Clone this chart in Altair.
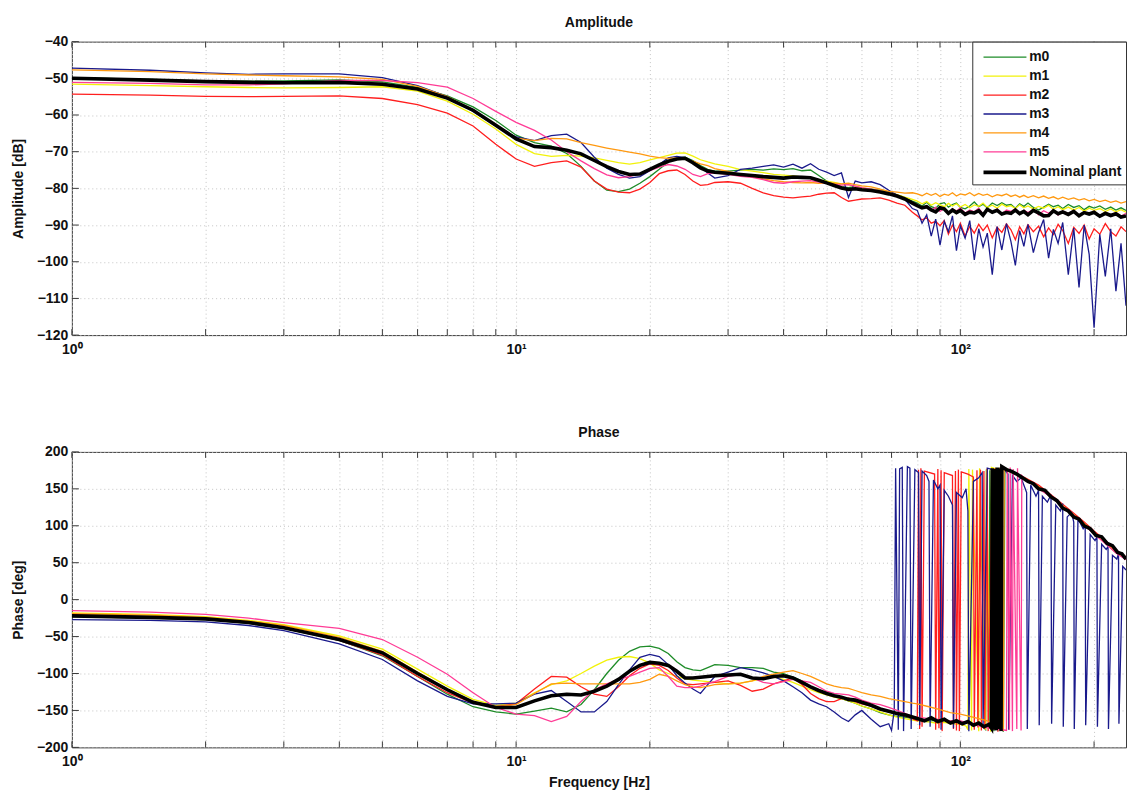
import altair as alt
import pandas as pd

FONT = "Liberation Sans, Arial, Helvetica, sans-serif"

SERIES = ["m0", "m1", "m2", "m3", "m4", "m5", "Nominal plant"]
COLORS = ["#1e8c28", "#f2f20a", "#ff1e1e", "#1a1a8c", "#ff9910", "#ff3c96", "#000000"]
WIDTHS = [1.3, 1.3, 1.3, 1.3, 1.3, 1.3, 3.6]

XTICKS = [1, 2, 3, 4, 5, 6, 7, 8, 9, 10, 20, 30, 40, 50, 60, 70, 80, 90, 100, 200]
AMP_TICKS = [-120, -110, -100, -90, -80, -70, -60, -50, -40]
PH_TICKS = [-200, -150, -100, -50, 0, 50, 100, 150, 200]

# frequency grids (Hz)
FREQ_LF = [1, 1.5, 2, 2.5, 3, 4, 5, 6, 7, 8, 9, 10, 11, 12, 13, 14, 15, 16, 17, 18,
           19, 20, 21, 22, 23, 24, 25, 26, 27, 28]
FREQ_MF = [30, 32, 34, 36, 38, 40, 42, 44, 46, 48, 50, 52, 54, 56, 58, 60, 63, 66, 69, 72, 75, 78]
FREQ_HF = [80, 82, 84, 86, 88, 90, 92, 94, 96, 98, 100, 102.5, 105, 107.5, 110, 112.5, 115,
           118, 121, 124, 127, 130, 133, 136, 139, 142, 146, 150, 154, 158, 162, 166, 170,
           175, 180, 185, 190, 195, 200, 206, 212, 218, 224, 230, 236]

# ---------------- amplitude [dB] on FREQ_LF + FREQ_MF + FREQ_HF ----------------
AMP_M0 = [-49.8, -50.3, -50.7, -50.8, -50.7, -50.4, -51.0, -52.5, -54.8, -57.8, -61.5, -65.5,
          -67.5, -68.5, -70.5, -74.0, -78.0, -80.5, -80.9, -80.2, -78.6, -76.8, -74.8, -72.8,
          -71.8, -71.5, -72.4, -73.8, -74.8, -75.3,
          -75.3, -75.0, -74.8, -75.0, -74.7, -74.9, -74.6, -75.2, -75.0, -76.5, -78.0, -78.8,
          -79.5, -79.8, -79.5, -80.0, -80.2, -80.5, -81.0, -81.8, -82.5, -83.5,
          -84.0, -84.8, -83.8, -85.0, -85.4, -84.2, -83.9, -85.1, -84.4, -84.0, -85.2, -85.6,
          -84.8, -83.7, -85.0, -84.3, -85.3, -84.0, -84.7, -83.9, -84.6, -84.4, -85.4, -84.2,
          -84.9, -84.0, -85.2, -85.9, -85.1, -84.3, -85.0, -84.6, -85.5, -84.4, -85.2, -84.7,
          -85.8, -84.9, -85.4, -84.8, -85.7, -85.1, -85.9, -85.3, -86.0]
AMP_M1 = [-51.6, -52.0, -52.3, -52.5, -52.6, -52.5, -52.3, -53.5, -56.2, -59.8, -63.8, -68.0,
          -70.5, -71.3, -71.0, -71.2, -71.7, -72.4, -73.0, -73.4, -73.0, -72.2, -71.6, -71.0,
          -70.4, -70.3, -71.2, -72.2, -72.8, -73.3,
          -74.0, -74.9, -75.3, -75.7, -76.2, -76.4, -76.6, -76.9, -77.1, -77.6, -78.0, -78.4,
          -78.8, -79.0, -79.5, -79.9, -80.2, -80.6, -81.0, -81.7, -82.4, -83.0,
          -83.5, -84.2, -83.6, -84.6, -83.9, -84.5, -85.0, -84.1, -84.8, -84.2, -85.1, -84.4,
          -85.3, -84.5, -84.9, -84.0, -85.2, -84.6, -85.4, -84.3, -85.0, -84.7, -85.5, -84.5,
          -85.3, -84.8, -85.6, -84.9, -85.4, -84.6, -85.7, -85.0, -85.8, -85.1, -85.9, -85.2,
          -86.2, -85.4, -86.0, -85.5, -86.3, -85.6, -86.4, -85.8, -86.5]
AMP_M2 = [-54.3, -54.6, -54.9, -55.0, -54.9, -54.8, -55.5, -57.2, -59.5, -63.0, -68.0, -72.0,
          -74.0, -73.0, -72.5, -74.2, -78.0, -80.2, -81.0, -81.2, -80.2, -78.4, -76.0, -75.2,
          -75.0, -76.2, -78.0, -79.2, -79.0, -78.4,
          -78.2, -78.6, -80.0, -81.2, -82.0, -82.4, -82.6, -82.3, -82.1, -81.6, -81.3, -81.2,
          -82.5, -83.5, -83.2, -82.9, -82.8, -82.6, -83.2, -84.0, -84.6, -86.5,
          -87.5, -88.6, -88.0, -89.5, -89.0, -90.2, -88.8, -92.5, -90.0, -91.8, -89.5, -93.0,
          -90.4, -92.2, -89.8, -91.5, -90.0, -93.5, -90.6, -92.0, -89.7, -91.3, -94.0, -90.5,
          -92.4, -89.9, -91.8, -90.3, -93.2, -90.8, -92.6, -89.8, -91.5, -95.0, -90.6, -92.3,
          -90.0, -93.8, -91.0, -92.5, -89.6, -91.8, -93.0, -90.5, -91.8]
AMP_M3 = [-47.2, -47.8, -48.5, -48.9, -48.8, -48.8, -49.8, -52.0, -55.0, -59.0, -63.0, -66.0,
          -67.0, -65.6, -65.2, -67.5, -71.5, -74.5, -76.2, -77.2, -76.8, -75.2, -73.5, -71.7,
          -71.3, -71.6, -72.8, -74.2, -75.8, -77.2,
          -76.5, -74.8, -74.5, -74.0, -73.6, -74.2, -73.4, -74.5, -73.3, -74.8, -75.6, -76.5,
          -75.8, -82.5, -78.0, -78.5, -78.2, -79.0, -80.5, -81.8, -83.0, -85.5,
          -86.0, -89.5, -87.2, -93.0, -88.4, -95.5, -89.0, -91.8, -87.5, -97.0, -90.2, -93.6,
          -88.8, -99.5, -91.0, -96.0, -92.2, -103.5, -90.4, -96.8, -89.6, -94.5, -101.0, -91.5,
          -95.8, -89.8, -97.5, -92.0, -88.5, -99.0, -91.2, -95.0, -89.3, -103.5, -90.8, -107.0,
          -90.0, -98.0, -118.0, -92.5, -104.0, -91.0, -108.0, -95.0, -112.0]
AMP_M4 = [-47.7, -48.2, -48.8, -49.1, -49.3, -49.6, -50.3, -52.2, -55.0, -58.6, -62.5, -66.3,
          -67.0, -66.4, -66.5, -67.5, -68.3, -69.0, -69.6, -70.1, -70.6, -71.2, -71.6, -71.8,
          -71.7, -72.1, -72.6, -73.3, -73.8, -74.6,
          -75.4, -76.2, -76.8, -77.4, -77.9, -78.2, -78.4, -78.5, -78.4, -78.6, -78.5, -78.6,
          -78.8, -78.6, -79.0, -79.3, -79.6, -80.2, -80.8, -81.0, -81.3, -81.2,
          -81.5, -82.0, -81.3, -81.9, -81.4, -82.2, -81.6, -81.9, -81.2, -82.1, -81.5, -81.8,
          -81.2, -82.0, -81.4, -81.9, -81.6, -82.3, -81.7, -82.0, -81.5, -82.2, -81.8, -82.4,
          -81.9, -82.5, -82.0, -82.6, -82.1, -82.7, -82.3, -82.9, -82.4, -83.0, -82.6, -83.2,
          -82.8, -83.4, -83.0, -83.6, -83.2, -83.8, -83.4, -84.0, -83.6]
AMP_M5 = [-51.1, -51.4, -51.8, -51.8, -51.5, -50.6, -50.6, -51.2, -52.4, -55.5, -59.0, -62.0,
          -64.2, -66.8, -70.0, -72.5, -74.6, -76.3, -77.1, -76.8, -76.0, -75.2, -74.2, -73.5,
          -73.9, -74.8, -76.2, -76.8, -76.0, -75.8,
          -76.2, -76.7, -77.0, -77.6, -78.4, -78.6, -78.2, -78.0, -77.9, -78.3, -78.6, -78.9,
          -79.1, -79.0, -79.4, -79.8, -80.2, -80.7, -81.2, -82.0, -82.8, -83.8,
          -84.5, -85.4, -84.8, -86.0, -85.2, -86.3, -85.5, -86.8, -85.6, -86.2, -85.3, -86.7,
          -85.9, -86.4, -85.4, -87.0, -85.8, -86.5, -85.6, -86.9, -85.9, -86.3, -85.5, -87.1,
          -86.0, -86.6, -85.7, -87.2, -86.1, -86.8, -85.9, -87.3, -86.2, -86.9, -86.0, -87.4,
          -86.4, -87.0, -86.2, -87.5, -86.5, -87.2, -86.6, -87.6, -86.8]
AMP_NOM = [-50.0, -50.5, -50.9, -51.1, -51.2, -51.1, -51.6, -52.9, -55.4, -58.7, -62.8, -66.5,
           -68.6, -68.9, -69.6, -70.6, -72.4, -74.1, -75.4, -76.2, -76.1, -74.8, -73.6, -72.6,
           -72.0, -71.8, -73.0, -74.4, -75.3, -75.6,
           -75.9, -76.2, -76.5, -76.8, -77.0, -77.2, -76.9, -77.0, -77.1, -77.8, -78.5, -79.2,
           -79.9, -80.3, -80.1, -80.4, -80.6, -81.0, -81.5, -82.1, -82.9, -84.0,
           -84.7, -85.3, -85.0, -85.9, -86.4, -85.3, -85.6, -86.8, -85.9, -86.6, -86.0, -87.1,
           -86.5, -86.7, -86.1, -87.3, -85.7, -86.5, -86.0, -87.0, -86.6, -86.8, -85.9, -86.9,
           -86.3, -87.2, -86.0, -86.7, -87.5, -87.4, -86.1, -86.9, -86.4, -87.1, -86.3, -87.5,
           -86.6, -87.0, -86.5, -87.6, -86.8, -87.4, -86.9, -87.8, -87.5]

# ---------------- phase [deg] on FREQ_LF + FREQ_MF, then own high-frequency part ----------------
PH_M0 = [-23, -25, -27, -32, -39, -55, -76, -104, -128, -145, -152, -155, -151, -147, -152,
         -142, -122, -100, -82, -70, -64, -63, -66, -73, -84, -92, -95, -96, -92, -88,
         -89, -92, -92, -93, -98, -100, -105, -110, -118, -124, -128, -131, -134, -137, -140,
         -144, -148, -153, -156, -158, -159, -161]
PH_M0_HF_F = [80, 84, 88, 92, 96, 100, 104, 108, 112, 114, 114.5, 116, 116.5, 119, 119.5, 122,
              122.5, 125, 126, 130, 136, 142, 150, 160, 170, 180, 190, 200, 212, 224, 236]
PH_M0_HF_V = [-162, -165, -163, -166, -164, -167, -166, -169, -171, -176, 176, -174, 175, -178,
              178, -177, 179, -179, 178, 174, 168, 161, 153, 140, 126, 114, 102, 90, 77, 64, 55]

PH_M1 = [-18, -20, -23, -28, -34, -49, -67, -94, -117, -135, -143, -140, -126, -115, -110,
         -100, -90, -82, -78, -77, -80, -86, -95, -100, -104, -107, -109, -110, -111, -112,
         -114, -113, -110, -107, -105, -108, -112, -117, -122, -126, -129, -132, -134, -137,
         -140, -144, -148, -152, -156, -159, -161, -163]
PH_M1_HF_F = [80, 84, 88, 92, 96, 100, 103, 104, 104.5, 106, 106.5, 110, 110.5, 114, 114.5, 117,
              117.5, 119, 122, 126, 132, 140, 150, 160, 170, 180, 190, 200, 212, 224, 236]
PH_M1_HF_V = [-164, -165, -167, -166, -168, -169, -171, -176, 177, -177, 176, -178, 178, -176,
              177, -179, 179, 178, 177, 175, 171, 163, 152, 140, 126, 114, 102, 90, 77, 64, 55]

PH_M2 = [-20, -23, -26, -31, -38, -55, -75, -104, -126, -140, -145, -141, -121, -104, -105,
         -118, -128, -131, -118, -103, -93, -87, -89, -96, -106, -114, -115, -114, -113, -112,
         -110, -116, -124, -121, -114, -110, -106, -115, -127, -134, -138, -138, -134, -133,
         -138, -141, -144, -149, -152, -154, -157, -161]
PH_M2_HF_F = [80, 80.5, 81, 81.5, 82, 83, 87.5, 88, 89, 89.5, 90.5, 91, 92, 96, 96.5, 97.5, 98,
              99, 99.5, 100.5, 104, 107, 107.5, 109, 109.5, 111, 111.5, 113, 113.5, 115, 115.5,
              118, 121, 121.5, 123, 126, 132, 140, 150, 160, 170, 180, 190, 200, 212, 224, 236]
PH_M2_HF_V = [-164, 176, -175, 178, -172, 174, 170, -176, 177, -174, 175, -178, 172, 168, -175,
              174, -177, 176, -178, 173, 170, 166, -176, 175, -173, 176, -177, 174, -175, 178,
              -178, 176, 177, -179, 178, 176, 172, 165, 155, 142, 129, 117, 105, 93, 80, 67, 58]

PH_M3 = [-27, -28, -30, -35, -42, -60, -81, -110, -131, -141, -141, -140, -128, -123, -138,
         -152, -152, -138, -115, -95, -78, -74, -77, -88, -103, -113, -121, -127, -115, -104,
         -98, -92, -95, -99, -104, -110, -118, -126, -136, -141, -145, -152, -160, -165, -156,
         -150, -162, -172, -168, -176, -170, -176]
PH_M3_HF_F = [70, 71, 71.5, 72.5, 73, 74, 74.5, 76, 77, 77.5, 79, 80.5, 81, 82, 84, 85, 85.5, 87,
              89, 90, 90.5, 92, 94, 96, 96.5, 98, 101, 103, 104, 104.5, 107, 110, 112, 112.5, 115,
              118, 121, 125, 128, 128.5, 131, 134, 137, 140, 141, 141.5, 144, 148, 150, 150.5,
              153, 157, 160, 160.5, 164, 168, 170, 170.5, 174, 178, 180, 180.5, 184, 189, 191,
              191.5, 196, 201, 203, 203.5, 208, 213, 215, 215.5, 220, 225, 227, 227.5, 232, 236]
PH_M3_HF_V = [-177, -150, 178, -176, 177, 179, -178, 180, 178, -175, 176, 172, -170, 174, 168,
              160, -172, 162, 150, 155, -176, 148, 140, 128, -174, 145, 138, 150, 120, -178,
              160, 165, 172, -170, 178, 176, 174, 178, 170, -176, 168, 160, 165, 150, 145, -175,
              155, 140, 148, -170, 140, 132, 142, -168, 128, 120, 130, -172, 112, 118, 105, -175,
              110, 96, 100, -170, 88, 80, 85, -172, 75, 68, 72, -175, 60, 55, 62, -168, 45, 40]

PH_M4 = [-19, -21, -24, -29, -35, -51, -70, -98, -121, -138, -145, -142, -127, -114, -113,
         -114, -114, -114, -114, -114, -112, -108, -101, -104, -110, -115, -118, -119, -117, -115,
         -114, -113, -110, -104, -101, -98, -96, -100, -104, -109, -114, -117, -119, -120,
         -123, -126, -129, -131, -134, -136, -138, -140]
PH_M4_HF_F = [80, 85, 90, 95, 100, 105, 110, 115, 119, 119.5, 122, 122.5, 125, 125.5, 128, 134,
              140, 150, 160, 170, 180, 190, 200, 212, 224, 236]
PH_M4_HF_V = [-141, -145, -149, -153, -155, -158, -161, -164, -168, 178, -176, 177, -178, 179,
              176, 171, 164, 153, 140, 127, 115, 103, 91, 78, 65, 56]

PH_M5 = [-15, -17, -20, -25, -31, -39, -54, -78, -101, -126, -146, -155, -157, -165, -158,
         -138, -122, -114, -108, -104, -98, -93, -92, -104, -117, -119, -119, -117, -113, -111,
         -104, -101, -106, -112, -114, -111, -108, -110, -112, -118, -124, -127, -128, -129,
         -132, -136, -140, -142, -146, -150, -154, -158]
PH_M5_HF_F = [80, 85, 90, 95, 100, 105, 108, 112, 116, 120, 124, 127, 127.5, 129, 129.5, 131,
              131.5, 134, 134.5, 137, 137.5, 140, 145, 150, 160, 170, 180, 190, 200, 212, 224, 236]
PH_M5_HF_V = [-159, -161, -162, -164, -164, -167, -170, -172, -174, -175, -176, -177, 176, -176,
              179, -178, 177, -175, 178, -177, 168, 162, 157, 150, 139, 126, 114, 101, 89, 76,
              63, 54]

PH_NOM = [-22, -24, -26, -31, -38, -54, -72, -100, -122, -139, -146, -146, -137, -130, -128,
          -129, -124, -117, -108, -97, -89, -85, -86, -89, -97, -106, -106, -105, -104, -103,
          -102, -101, -106, -107, -104, -103, -106, -112, -118, -123, -127, -130, -132, -135,
          -136, -139, -143, -148, -151, -154, -156, -159]
PH_NOM_HF_F = [80, 83, 86, 89, 92, 95, 98, 101, 104, 107, 110, 113, 116, 117.5, 118, 119, 119.5,
               120.5, 121, 122, 122.5, 123.5, 124, 127, 130, 134, 138, 142, 146, 150, 155, 160,
               165, 170, 175, 180, 185, 190, 196, 202, 208, 214, 220, 226, 231, 236]
PH_NOM_HF_V = [-161, -164, -160, -165, -162, -167, -164, -168, -165, -170, -167, -172, -169,
               -174, 178, -176, 177, -177, 179, -175, 178, -178, 180, 176, 174, 170, 165, 160,
               157, 150, 148, 139, 134, 124, 120, 112, 109, 100, 96, 87, 85, 76, 73, 64, 62, 55]

AMP_ALL = [AMP_M0, AMP_M1, AMP_M2, AMP_M3, AMP_M4, AMP_M5, AMP_NOM]
PH_ALL = [
    (PH_M0, PH_M0_HF_F, PH_M0_HF_V),
    (PH_M1, PH_M1_HF_F, PH_M1_HF_V),
    (PH_M2, PH_M2_HF_F, PH_M2_HF_V),
    (PH_M3, PH_M3_HF_F, PH_M3_HF_V),
    (PH_M4, PH_M4_HF_F, PH_M4_HF_V),
    (PH_M5, PH_M5_HF_F, PH_M5_HF_V),
    (PH_NOM, PH_NOM_HF_F, PH_NOM_HF_V),
]

amp_rows = []
for name, vals in zip(SERIES, AMP_ALL):
    for f, v in zip(FREQ_LF + FREQ_MF + FREQ_HF, vals):
        amp_rows.append({"series": name, "freq": f, "val": v})
amp_df = pd.DataFrame(amp_rows)

ph_rows = []
for name, (lowmid, hf_f, hf_v) in zip(SERIES, PH_ALL):
    start = hf_f[0]
    for f, v in zip(FREQ_LF + FREQ_MF, lowmid):
        if f < start:
            ph_rows.append({"series": name, "freq": f, "val": v})
    for f, v in zip(hf_f, hf_v):
        ph_rows.append({"series": name, "freq": f, "val": v})
ph_df = pd.DataFrame(ph_rows)

W = 1056
LABEL_EXPR = ("datum.value == 1 ? '10\u2070' : datum.value == 10 ? '10\u00b9' : "
              "datum.value == 100 ? '10\u00b2' : ''")
TICK_COLOR = "#3a3a3a"


def make_panel(df, ydomain, yticks, ytitle, title, height, xtitle, legend):
    xs = alt.Scale(type="log", domain=[1, 236], nice=False)
    xaxis = alt.Axis(values=XTICKS, labelExpr=LABEL_EXPR, title=xtitle, grid=True,
                     ticks=False, domain=False, labelFlush=False, labelOverlap=False,
                     labelPadding=7, titlePadding=7)
    ys = alt.Scale(domain=ydomain, nice=False, zero=False)
    yaxis = alt.Axis(values=yticks, title=ytitle, grid=True, ticks=False, domain=False,
                     labelPadding=4, titlePadding=11, format="d")

    color = alt.Color("series:N", scale=alt.Scale(domain=SERIES, range=COLORS), legend=legend)
    sw = alt.StrokeWidth("series:N",
                         scale=alt.Scale(type="ordinal", domain=SERIES, range=WIDTHS),
                         legend=legend)
    base = alt.Chart(df).encode(
        x=alt.X("freq:Q", scale=xs, axis=xaxis),
        y=alt.Y("val:Q", scale=ys, axis=yaxis),
        color=color,
        strokeWidth=sw,
    )
    colored = base.transform_filter(alt.datum.series != "Nominal plant").mark_line(clip=True)
    nominal = base.transform_filter(alt.datum.series == "Nominal plant").mark_line(clip=True)

    xt = pd.DataFrame({"f": XTICKS})
    yt = pd.DataFrame({"v": yticks})
    top_ticks = alt.Chart(xt).mark_rule(color=TICK_COLOR, strokeWidth=1).encode(
        x=alt.X("f:Q", scale=xs, axis=xaxis), y=alt.value(0), y2=alt.value(6))
    bot_ticks = alt.Chart(xt).mark_rule(color=TICK_COLOR, strokeWidth=1).encode(
        x=alt.X("f:Q", scale=xs, axis=xaxis), y=alt.value(height), y2=alt.value(height - 6))
    left_ticks = alt.Chart(yt).mark_rule(color=TICK_COLOR, strokeWidth=1).encode(
        y=alt.Y("v:Q", scale=ys, axis=yaxis), x=alt.value(0), x2=alt.value(7))

    return alt.layer(top_ticks, bot_ticks, left_ticks, colored, nominal).properties(
        width=W, height=height,
        title=alt.TitleParams(text=title, anchor="middle", frame="group", offset=5),
    )


legend = alt.Legend(
    title=None, orient="top-right", offset=0, symbolType="M-2,0H2", symbolSize=462,
    symbolOffset=15.75, labelOffset=11.25,
    labelFont=FONT, labelFontSize=14, labelFontWeight="bold", labelColor="#111",
    fillColor="white", strokeColor="#333", padding=4, rowPadding=-0.5,
)

top = make_panel(amp_df, [-120, -40], AMP_TICKS, "Amplitude [dB]", "Amplitude", 294, None, legend)
bottom = make_panel(ph_df, [-200, 200], PH_TICKS, "Phase [deg]", "Phase", 296,
                    "Frequency [Hz]", None)

chart = (
    alt.vconcat(top, bottom, spacing=68)
    .resolve_scale(color="independent", strokeWidth="independent")
    .properties(padding={"left": 10, "top": 14, "right": 0, "bottom": 0}, background="white")
    .configure_view(stroke="#3a3a3a", strokeWidth=1)
    .configure_axis(labelFont=FONT, titleFont=FONT, labelFontSize=14, titleFontSize=14,
                    labelFontWeight="bold", titleFontWeight="bold", labelColor="#111",
                    titleColor="#111", gridColor="#c4c4c4", gridDash=[1, 3], gridWidth=1)
    .configure_title(font=FONT, fontSize=14, fontWeight="bold", color="#111")
)

chart.save("out.html", embed_options={"renderer": "svg", "actions": False})
